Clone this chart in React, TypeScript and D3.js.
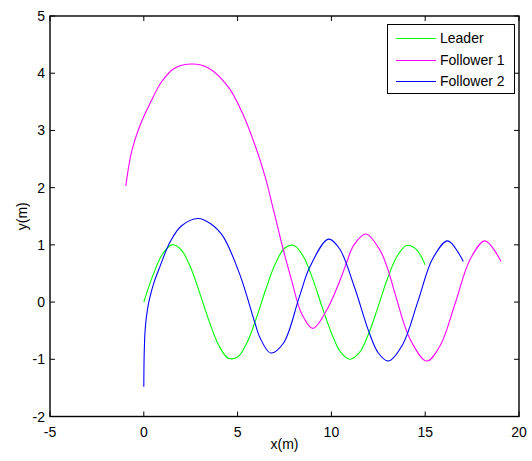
import React from "react";
import * as d3 from "d3";

const xTicks = [-5, 0, 5, 10, 15, 20];
const yTicks = [-2, -1, 0, 1, 2, 3, 4, 5];

const leaderX = [0, 0.5, 1, 1.5, 2, 2.5, 3, 3.5, 4, 4.5, 5, 5.5, 6, 6.5, 7, 7.5, 8, 8.5, 9, 9.5, 10, 10.5, 11, 11.5, 12, 12.5, 13, 13.5, 14, 14.5, 15];
const leaderY = [0, 0.48, 0.84, 1.0, 0.91, 0.6, 0.14, -0.35, -0.76, -0.98, -0.96, -0.71, -0.28, 0.22, 0.66, 0.94, 0.99, 0.8, 0.41, -0.08, -0.54, -0.88, -1.0, -0.88, -0.54, -0.07, 0.42, 0.8, 0.99, 0.93, 0.65];

const follower1X = [-0.96, -0.65, -0.2, 0.33, 0.95, 1.66, 2.6, 3.44, 4.5, 5.22, 5.93, 6.46, 6.9, 7.44, 7.88, 8.41, 9.0, 9.75, 10.46, 10.8, 11.2, 11.84, 12.6, 13.0, 13.4, 14.2, 15.08, 15.8, 16.6, 17.4, 18.19, 19.04];
const follower1Y = [2.03, 2.63, 3.09, 3.47, 3.85, 4.09, 4.16, 4.09, 3.76, 3.33, 2.74, 2.2, 1.63, 0.91, 0.38, -0.2, -0.46, -0.14, 0.38, 0.68, 1.0, 1.19, 0.9, 0.58, 0.14, -0.65, -1.03, -0.76, -0.02, 0.75, 1.07, 0.71];

const follower2X = [0, 0.01, 0.03, 0.08, 0.2, 0.33, 0.55, 0.86, 1.4, 2.0, 2.9, 3.6, 4.24, 5.13, 5.93, 6.19, 6.76, 7.44, 8.29, 8.86, 9.84, 10.42, 11.2, 12.0, 12.5, 13.03, 13.8, 14.6, 15.4, 16.2, 17.03];
const follower2Y = [-1.48, -1.1, -0.8, -0.45, -0.12, 0.09, 0.35, 0.62, 1.05, 1.33, 1.46, 1.36, 1.14, 0.47, -0.37, -0.62, -0.89, -0.72, 0.09, 0.62, 1.1, 0.94, 0.29, -0.52, -0.89, -1.03, -0.74, 0.0, 0.76, 1.07, 0.71];

const seriesNames = ["Leader", "Follower 1", "Follower 2"];
const seriesColors = ["#00ff00", "#ff00ff", "#0000ff"];

const W = 532;
const H = 461;
const L = 50, R = 519, T = 16, B = 416.5;
const FONT = "'Liberation Sans', Arial, sans-serif";

export default function App() {
  const x = d3.scaleLinear().domain([-5, 20]).range([L, R]);
  const y = d3.scaleLinear().domain([-2, 5]).range([B, T]);
  const line = d3
    .line<[number, number]>()
    .x((d) => x(d[0]))
    .y((d) => y(d[1]))
    .curve(d3.curveCatmullRom.alpha(0.5));

  const series = [
    d3.zip(leaderX, leaderY) as [number, number][],
    d3.zip(follower1X, follower1Y) as [number, number][],
    d3.zip(follower2X, follower2Y) as [number, number][],
  ];

  const tickLen = 5;
  const legRows = [38, 59.5, 81];

  return (
    <svg
      width={W}
      height={H}
      style={{ position: "absolute", left: 0, top: 0, background: "#fff" }}
      fontFamily={FONT}
    >
      <rect x={0} y={0} width={W} height={H} fill="#fff" />
      <defs>
        <clipPath id="plotclip">
          <rect x={L} y={T} width={R - L} height={B - T} />
        </clipPath>
      </defs>
      {series.map((s, i) => (
        <path
          key={i}
          d={line(s) || ""}
          fill="none"
          stroke={seriesColors[i]}
          strokeWidth={1.1}
          clipPath="url(#plotclip)"
        />
      ))}
      {xTicks.map((t) => (
        <g key={"xt" + t}>
          <line x1={x(t)} x2={x(t)} y1={B} y2={B - tickLen} stroke="#000" strokeWidth={1} />
          <line x1={x(t)} x2={x(t)} y1={T} y2={T + tickLen} stroke="#000" strokeWidth={1} />
          <text x={x(t)} y={B + 20} textAnchor="middle" fontSize={14} fill="#000">
            {t}
          </text>
        </g>
      ))}
      {yTicks.map((t) => (
        <g key={"yt" + t}>
          <line x1={L} x2={L + tickLen} y1={y(t)} y2={y(t)} stroke="#000" strokeWidth={1} />
          <line x1={R} x2={R - tickLen} y1={y(t)} y2={y(t)} stroke="#000" strokeWidth={1} />
          <text x={L - 5} y={y(t)} dy="0.36em" textAnchor="end" fontSize={14} fill="#000">
            {t}
          </text>
        </g>
      ))}
      <rect x={L} y={T} width={R - L} height={B - T} fill="none" stroke="#000" strokeWidth={1.4} />
      <text x={(L + R) / 2} y={449} textAnchor="middle" fontSize={14} fill="#000">
        x(m)
      </text>
      <text
        transform={`translate(27,${(T + B) / 2}) rotate(-90)`}
        textAnchor="middle"
        fontSize={14}
        fill="#000"
      >
        y(m)
      </text>
      <rect x={387.5} y={24.5} width={127} height={69} fill="#fff" stroke="#000" strokeWidth={1} />
      {seriesNames.map((n, i) => (
        <g key={n}>
          <line
            x1={396}
            x2={436}
            y1={legRows[i] + 0.5}
            y2={legRows[i] + 0.5}
            stroke={seriesColors[i]}
            strokeWidth={1}
            shapeRendering="crispEdges"
          />
          <text x={440} y={legRows[i]} dy="0.36em" fontSize={14} fill="#000">
            {n}
          </text>
        </g>
      ))}
    </svg>
  );
}
